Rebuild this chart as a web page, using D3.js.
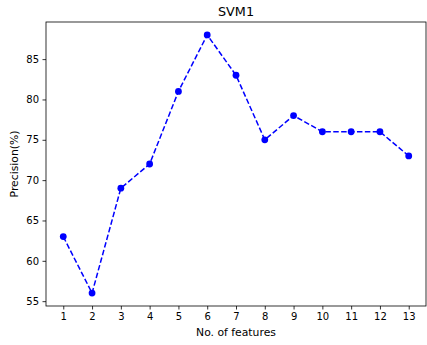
<!DOCTYPE html>
<html>
<head>
<meta charset="utf-8">
<script src="https://cdn.jsdelivr.net/npm/d3@7"></script>
<style>
  body { margin: 0; background: #fff; }
  text { font-family: "DejaVu Sans", sans-serif; fill: #000; }
</style>
</head>
<body>
<div id="chart"></div>
<script>
// SVM1 precision by number of features

const features = [1, 2, 3, 4, 5, 6, 7, 8, 9, 10, 11, 12, 13];
const precision = [63, 56, 69, 72, 81, 88, 83, 75, 78, 76, 76, 76, 73];
const yTicks = [55, 60, 65, 70, 75, 80, 85];

const width = 427,
  height = 345,
  margin = { top: 22, right: 1, bottom: 39, left: 46 };

const svg = d3.select("#chart")
  .append("svg")
  .attr("width", width)
  .attr("height", height);

const x = d3.scaleLinear()
  .domain([0.4, 13.6])
  .range([margin.left, width - margin.right]);

const y = d3.scaleLinear()
  .domain([54.4, 89.6])
  .range([height - margin.bottom, margin.top]);

// x axis
svg.append("g")
  .attr("transform", `translate(0,${height - margin.bottom})`)
  .call(d3.axisBottom(x).tickValues(features).tickSize(3.5).tickPadding(3.5).tickFormat(d3.format("d")))
  .call(g => g.select(".domain").remove())
  .call(g => g.selectAll("line").attr("stroke-width", 0.8))
  .call(g => g.selectAll("text").attr("font-size", 10).attr("font-family", "DejaVu Sans"));

// y axis
svg.append("g")
  .attr("transform", `translate(${margin.left},0)`)
  .call(d3.axisLeft(y).tickValues(yTicks).tickSize(3.5).tickPadding(3.5))
  .call(g => g.select(".domain").remove())
  .call(g => g.selectAll("line").attr("stroke-width", 0.8))
  .call(g => g.selectAll("text").attr("font-size", 10).attr("font-family", "DejaVu Sans"));

// frame
svg.append("rect")
  .attr("x", margin.left)
  .attr("y", margin.top)
  .attr("width", width - margin.left - margin.right)
  .attr("height", height - margin.top - margin.bottom)
  .attr("fill", "none")
  .attr("stroke", "#000")
  .attr("stroke-width", 0.8);

const line = d3.line()
  .x((d, i) => x(features[i]))
  .y(d => y(d));

svg.append("path")
  .datum(precision)
  .attr("fill", "none")
  .attr("stroke", "#0000ff")
  .attr("stroke-width", 1.5)
  .attr("stroke-dasharray", "5.5,2.4")
  .attr("d", line);

svg.append("g")
  .selectAll("circle")
  .data(precision)
  .join("circle")
  .attr("cx", (d, i) => x(features[i]))
  .attr("cy", d => y(d))
  .attr("r", 3.4)
  .attr("fill", "#0000ff");

// title and labels
svg.append("text")
  .attr("x", (margin.left + width - margin.right) / 2)
  .attr("y", 16)
  .attr("text-anchor", "middle")
  .attr("font-size", 12.8)
  .text("SVM1");

svg.append("text")
  .attr("x", (margin.left + width - margin.right) / 2)
  .attr("y", 336)
  .attr("text-anchor", "middle")
  .attr("font-size", 10.8)
  .text("No. of features");

svg.append("text")
  .attr("transform", `translate(18,${(margin.top + height - margin.bottom) / 2}) rotate(-90)`)
  .attr("text-anchor", "middle")
  .attr("font-size", 10.8)
  .text("Precision(%)");
</script>
</body>
</html>
